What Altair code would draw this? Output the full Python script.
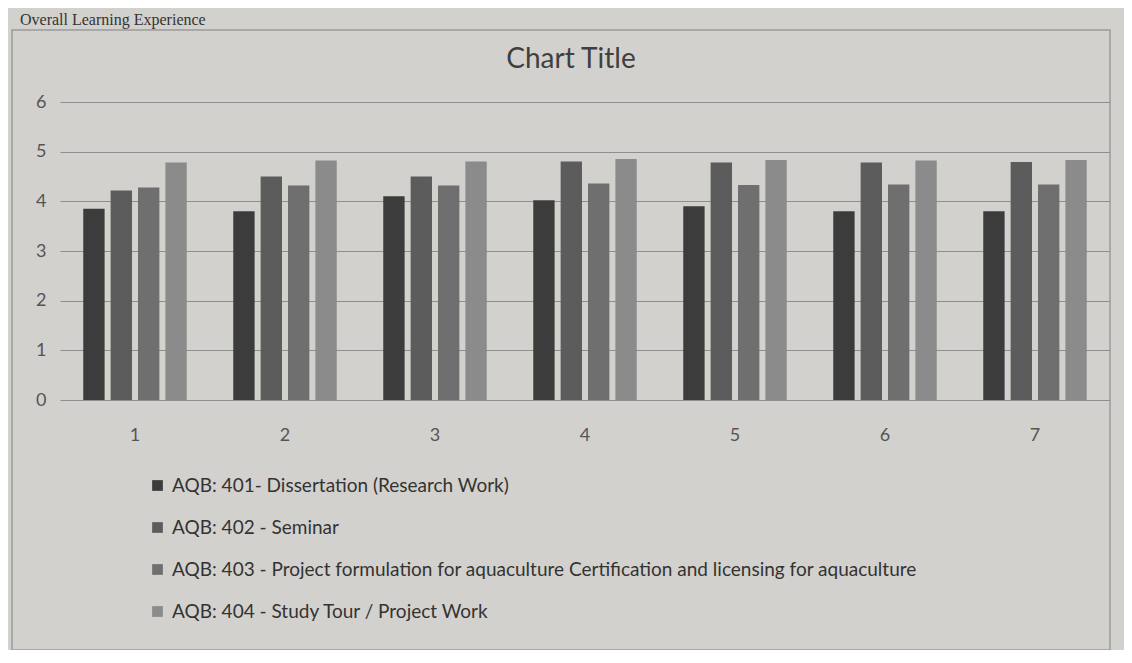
import altair as alt
import pandas as pd

groups = ["1", "2", "3", "4", "5", "6", "7"]
series = [
    "AQB: 401- Dissertation (Research Work)",
    "AQB: 402 - Seminar",
    "AQB: 403 - Project formulation for aquaculture Certification and licensing for aquaculture",
    "AQB: 404 - Study Tour / Project Work",
]
s401 = [3.85, 3.8, 4.1, 4.02, 3.9, 3.8, 3.8]
s402 = [4.22, 4.5, 4.5, 4.8, 4.78, 4.78, 4.79]
s403 = [4.28, 4.32, 4.32, 4.36, 4.33, 4.34, 4.34]
s404 = [4.78, 4.82, 4.8, 4.85, 4.83, 4.82, 4.83]
colors = ["#3c3c3c", "#5c5c5c", "#6f6f6f", "#8b8b8b"]
y_ticks = [0, 1, 2, 3, 4, 5, 6]
chart_title = "Chart Title"
top_text = "Overall Learning Experience"

rows = []
for name, vals in zip(series, [s401, s402, s403, s404]):
    for g, v in zip(groups, vals):
        rows.append({"group": g, "series": name, "value": v})
df = pd.DataFrame(rows)

W, H = 1050, 298
FONT = "Lato"

bars = alt.Chart(df).mark_bar().encode(
    x=alt.X("group:N", sort=groups,
            scale=alt.Scale(paddingInner=0.31, paddingOuter=0.155),
            axis=alt.Axis(title=None, labelAngle=0, domain=False, ticks=False,
                          labelFontSize=18, labelColor="#555555", labelPadding=26,
                          labelFont=FONT, grid=False)),
    xOffset=alt.XOffset("series:N", sort=series, scale=alt.Scale(paddingInner=0.22)),
    y=alt.Y("value:Q", scale=alt.Scale(domain=[0, 6], nice=False),
            axis=alt.Axis(title=None, values=y_ticks, domain=False, ticks=False,
                          labelFontSize=18, labelColor="#555555", labelPadding=14,
                          labelFont=FONT, grid=True, gridColor="#8e8e8e",
                          gridWidth=1)),
    color=alt.Color("series:N", sort=series,
                    scale=alt.Scale(domain=series, range=colors),
                    legend=alt.Legend(title=None, orient="none", legendX=88, legendY=374,
                                      direction="vertical", symbolType="square",
                                      symbolSize=115, symbolStrokeWidth=0,
                                      labelFontSize=19, labelColor="#333333",
                                      labelFont=FONT, labelLimit=1000,
                                      rowPadding=22, labelOffset=5)),
)

frame_df = pd.DataFrame({"k": [0]})
frame = alt.Chart(frame_df).mark_rect(fill=None, stroke="#9a9a9a", strokeWidth=1.5).encode(
    x=alt.value(-48), x2=alt.value(1050), y=alt.value(-72), y2=alt.value(548)
)
toptxt = alt.Chart(pd.DataFrame({"t": [top_text]})).mark_text(
    font="Liberation Serif", fontSize=16, color="#333333", align="left", baseline="alphabetic"
).encode(text="t:N", x=alt.value(-40), y=alt.value(-77))
title_txt = alt.Chart(pd.DataFrame({"t": [chart_title]})).mark_text(
    font=FONT, fontSize=28, color="#3f3f3f", align="center", baseline="middle"
).encode(text="t:N", x=alt.value(511), y=alt.value(-42))

chart = alt.layer(frame, bars, toptxt, title_txt).properties(
    width=W, height=H,
    autosize=alt.AutoSizeParams(type="none"),
    padding={"left": 52, "top": 94, "right": 14, "bottom": 250},
    background="#d3d1cd",
).configure_view(strokeWidth=0)

chart.save("out.html", embed_options={"renderer": "svg", "actions": False})
